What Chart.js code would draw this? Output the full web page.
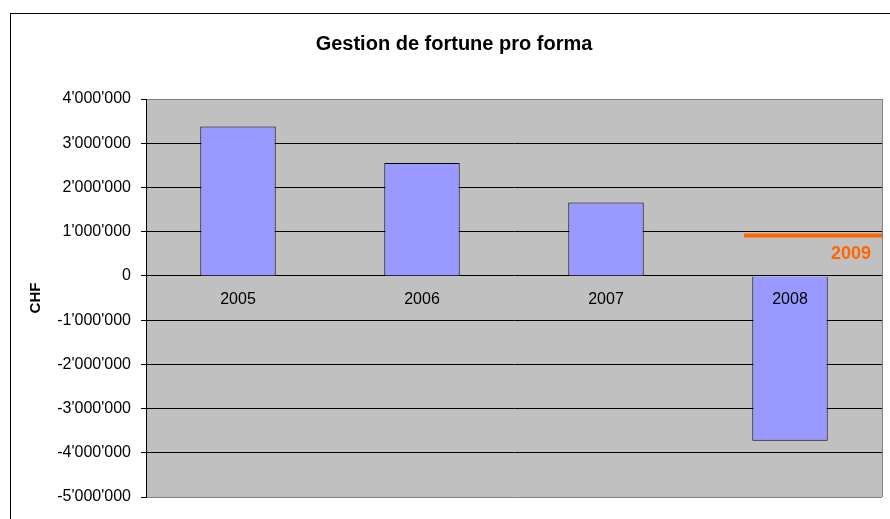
<!DOCTYPE html>
<html>
<head>
<meta charset="utf-8">
<script src="https://cdn.jsdelivr.net/npm/chart.js@4"></script>
<style>
  html, body { margin: 0; padding: 0; background: #fff; }
  #wrap { width: 890px; height: 519px; }
</style>
</head>
<body>
<div id="wrap"><canvas id="chart" width="890" height="519"></canvas></div>
<script>
const years = ["2005", "2006", "2007", "2008"]
const results = [3380000, 2550000, 1660000, -3730000]
const targetLabel = "2009"
const targetX = [3.25, 4]
const targetValue = [915000, 915000]
const yTicks = [4000000, 3000000, 2000000, 1000000, 0, -1000000, -2000000, -3000000, -4000000, -5000000]
const titleText = "Gestion de fortune pro forma"

function fmt(v) {
    const s = Math.abs(v).toString().replace(/\B(?=(\d{3})+(?!\d))/g, "'")
    return (v < 0 ? "-" : "") + s
}

const font = "'Liberation Sans', Arial, sans-serif"

// grey plot area + outer frame + title
const background = {
    id: "background",
    beforeDraw(chart) {
        const { ctx, chartArea: a } = chart
        ctx.save()
        ctx.strokeStyle = "#000"
        ctx.lineWidth = 1
        ctx.strokeRect(10.5, 13.5, 900, 520)
        ctx.fillStyle = "#C0C0C0"
        ctx.fillRect(a.left, a.top, a.right - a.left, a.bottom - a.top)

        ctx.fillStyle = "#000"
        ctx.font = "bold 20px " + font
        ctx.textAlign = "center"
        ctx.textBaseline = "middle"
        ctx.fillText(titleText, 454, 44)
        ctx.restore()
    },
    afterDraw(chart) {
        const { ctx, chartArea: a } = chart
        ctx.save()
        ctx.strokeStyle = "#808080"
        ctx.lineWidth = 1
        ctx.beginPath()
        ctx.moveTo(a.right + 0.5, a.top)
        ctx.lineTo(a.right + 0.5, a.bottom)
        ctx.stroke()
        ctx.restore()
    }
}

// category labels sit just under the zero line, on top of the bars
const catLabels = {
    id: "catLabels",
    afterDatasetsDraw(chart) {
        const { ctx, scales } = chart
        const y0 = scales.y.getPixelForValue(0)
        ctx.save()
        ctx.font = "16px " + font
        ctx.fillStyle = "#000"
        ctx.textAlign = "center"
        ctx.textBaseline = "middle"
        years.forEach((yr, i) => {
            ctx.fillText(yr, scales.x.getPixelForValue(i), y0 + 24)
        })
        // target label
        const meta = chart.getDatasetMeta(1)
        const p = meta.data[meta.data.length - 1]
        ctx.font = "bold 18px " + font
        ctx.fillStyle = "#FF6600"
        ctx.textAlign = "right"
        ctx.fillText(targetLabel, p.x - 11, p.y + 19)
        ctx.restore()
    }
}

new Chart(document.getElementById("chart"), {
    data: {
        labels: years,
        datasets: [{
            type: "bar",
            data: results,
            backgroundColor: "#9999FF",
            borderColor: "#000",
            borderWidth: 1,
            grouped: false,
            barPercentage: 0.41,
            categoryPercentage: 1,
            order: 2
        }, {
            type: "line",
            xAxisID: "x2",
            data: targetX.map((x, i) => ({ x: x, y: targetValue[i] })),
            borderColor: "#FF6600",
            borderWidth: 4,
            pointRadius: 0,
            order: 1
        }]
    },
    options: {
        responsive: false,
        animation: false,
        events: [],
        layout: { padding: { top: 99, left: 0, right: 8, bottom: 22 } },
        plugins: {
            legend: { display: false },
            tooltip: { enabled: false },
            title: { display: false }
        },
        scales: {
            x: { display: false, offset: true },
            x2: { type: "linear", display: false, min: 0, max: 4 },
            y: {
                min: -5000000,
                max: 4000000,
                afterBuildTicks(scale) {
                    scale.ticks = yTicks.map(v => ({ value: v }))
                },
                afterFit(scale) { scale.width = 146 },
                border: { display: true, color: "#000", width: 1 },
                grid: {
                    color: c => (c.tick && (c.tick.value === 4000000 || c.tick.value === -5000000)) ? "#808080" : "#000",
                    tickColor: "#000",
                    tickLength: 5,
                    lineWidth: 1
                },
                ticks: {
                    color: "#000",
                    padding: 10,
                    font: { family: font, size: 16 },
                    callback: v => fmt(v)
                },
                title: {
                    display: true,
                    text: "CHF",
                    color: "#000",
                    font: { family: font, size: 15, weight: "bold" },
                    padding: { top: 27, bottom: 0 }
                }
            }
        }
    },
    plugins: [background, catLabels]
})
</script>
</body>
</html>
